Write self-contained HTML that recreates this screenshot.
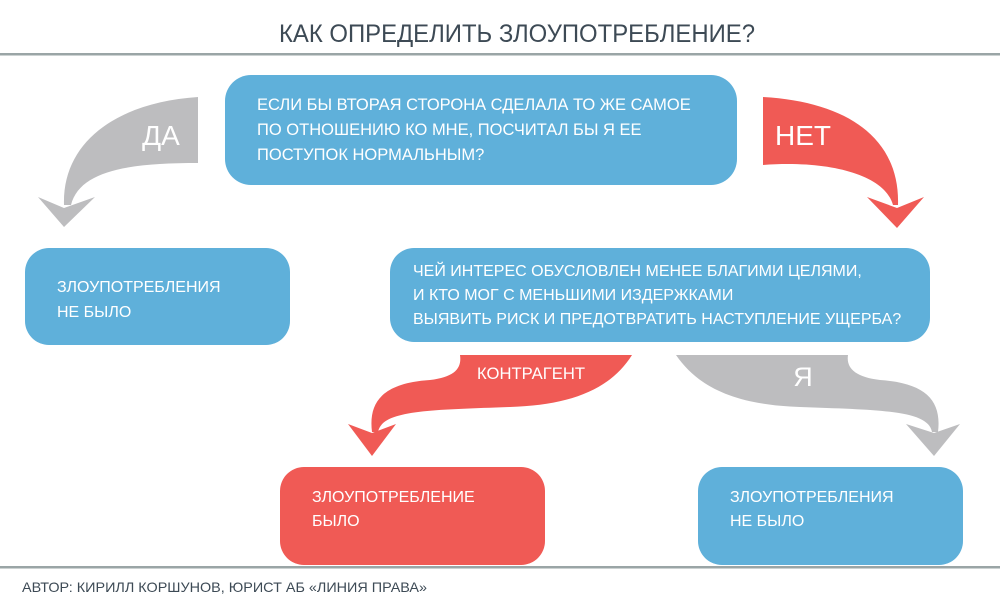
<!DOCTYPE html>
<html><head><meta charset="utf-8"><style>
body{margin:0;background:#fff;}
svg{display:block;}
text{font-family:"Liberation Sans","DejaVu Sans",sans-serif;}
</style></head><body>
<svg width="1000" height="607" viewBox="0 0 1000 607" xmlns="http://www.w3.org/2000/svg">
<text x="517" y="42" font-size="25" fill="#3d4a55" text-anchor="middle" textLength="476" lengthAdjust="spacingAndGlyphs">КАК ОПРЕДЕЛИТЬ ЗЛОУПОТРЕБЛЕНИЕ?</text>
<rect x="0" y="53" width="1000" height="2.5" fill="#9aa5a6"/>
<rect x="0" y="566" width="1000" height="2.5" fill="#9aa5a6"/>
<text x="22" y="592" font-size="14" fill="#3d4a55" textLength="405" lengthAdjust="spacingAndGlyphs">АВТОР: КИРИЛЛ КОРШУНОВ, ЮРИСТ АБ «ЛИНИЯ ПРАВА»</text>

<path d="M198,97 L198,163 C130,163 80,170 71,205 L64,205 C62,140 120,102 198,97 Z" fill="#bdbdbf"/>
<path d="M38,197 L64,208 L95,197 L64,227 Z" fill="#bdbdbf"/>
<text x="161" y="145" font-size="28" fill="#fff" text-anchor="middle">ДА</text>

<path d="M763,97 C850,102 900,140 898,205 L893,205 C885,175 830,160 763,165 Z" fill="#f05a55"/>
<path d="M867,197 L897,208 L924,197 L897,228 Z" fill="#f05a55"/>
<text x="803" y="145" font-size="28" fill="#fff" text-anchor="middle">НЕТ</text>

<rect x="225" y="75" width="512" height="110" rx="26" fill="#5fb0da"/>
<text font-size="16.5" fill="#fff"><tspan x="257" y="110">ЕСЛИ БЫ ВТОРАЯ СТОРОНА СДЕЛАЛА ТО ЖЕ САМОЕ</tspan><tspan x="257" y="135">ПО ОТНОШЕНИЮ КО МНЕ, ПОСЧИТАЛ БЫ Я ЕЕ</tspan><tspan x="257" y="160">ПОСТУПОК НОРМАЛЬНЫМ?</tspan></text>

<rect x="25" y="248" width="265" height="97" rx="24" fill="#5fb0da"/>
<text font-size="16" fill="#fff"><tspan x="57" y="292">ЗЛОУПОТРЕБЛЕНИЯ</tspan><tspan x="57" y="317">НЕ БЫЛО</tspan></text>

<rect x="390" y="248" width="540" height="94" rx="24" fill="#5fb0da"/>
<text font-size="16" fill="#fff"><tspan x="413" y="276">ЧЕЙ ИНТЕРЕС ОБУСЛОВЛЕН МЕНЕЕ БЛАГИМИ ЦЕЛЯМИ,</tspan><tspan x="413" y="300">И КТО МОГ С МЕНЬШИМИ ИЗДЕРЖКАМИ</tspan><tspan x="413" y="324">ВЫЯВИТЬ РИСК И ПРЕДОТВРАТИТЬ НАСТУПЛЕНИЕ УЩЕРБА?</tspan></text>

<path d="M460,355 L632,355 C610,390 570,405 510,407 C430,410 382,410 378,432 L372,432 C368,400 385,383 430,380 C455,377 462,368 460,355 Z" fill="#f05a55"/>
<path d="M348,424 L372,433 L396,424 L372,456 Z" fill="#f05a55"/>
<text x="531" y="379" font-size="17" fill="#fff" text-anchor="middle" textLength="108" lengthAdjust="spacingAndGlyphs">КОНТРАГЕНТ</text>

<path d="M676,355 L848,355 C846,368 855,377 880,380 C925,383 942,400 938,432 L932,432 C928,410 880,410 800,407 C740,405 700,390 676,355 Z" fill="#bdbdbf"/>
<path d="M906,424 L934,433 L960,424 L934,456 Z" fill="#bdbdbf"/>
<text x="803" y="386" font-size="27" fill="#fff" text-anchor="middle">Я</text>

<rect x="280" y="467" width="265" height="98" rx="24" fill="#f05a55"/>
<text font-size="16" fill="#fff"><tspan x="312" y="502">ЗЛОУПОТРЕБЛЕНИЕ</tspan><tspan x="312" y="526">БЫЛО</tspan></text>

<rect x="698" y="467" width="265" height="98" rx="24" fill="#5fb0da"/>
<text font-size="16" fill="#fff"><tspan x="730" y="502">ЗЛОУПОТРЕБЛЕНИЯ</tspan><tspan x="730" y="526">НЕ БЫЛО</tspan></text>
</svg>
</body></html>
